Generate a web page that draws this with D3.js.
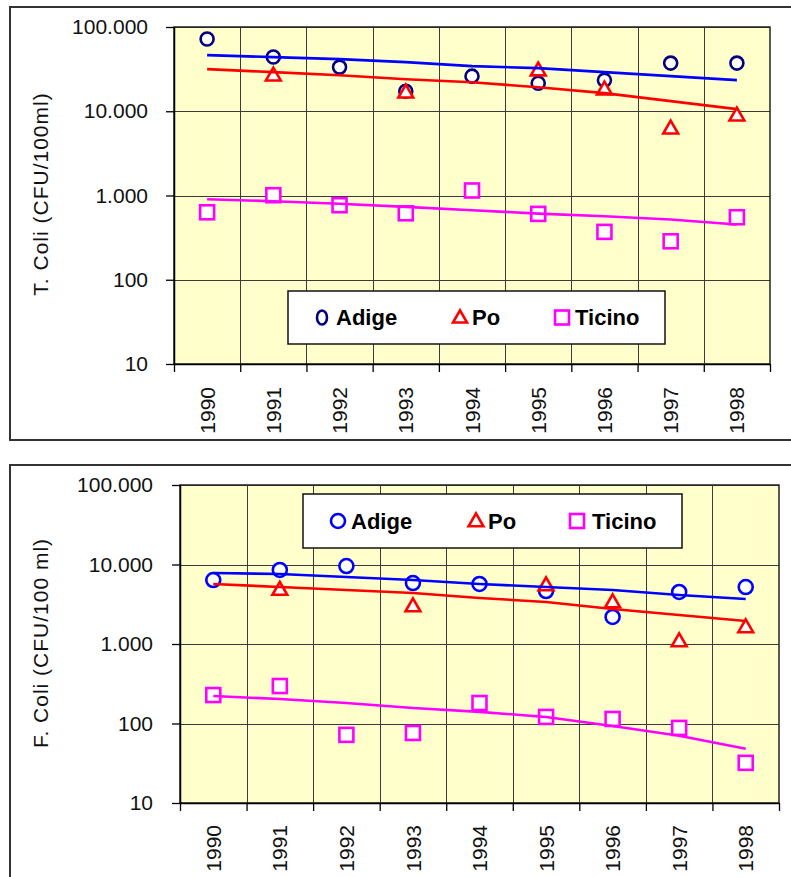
<!DOCTYPE html>
<html>
<head>
<meta charset="utf-8">
<script src="https://cdn.jsdelivr.net/npm/d3@7"></script>
<style>
  html, body { margin: 0; padding: 0; background: #fff; }
  svg { display: block; font-family: "Liberation Sans", Arial, sans-serif; }
</style>
</head>
<body>
<svg id="chart" width="791" height="877"></svg>
<script>
// ---------- DATA ----------
const years = ["1990", "1991", "1992", "1993", "1994", "1995", "1996", "1997", "1998"];
const yTickValues = [10, 100, 1000, 10000, 100000];
const yTickLabels = ["10", "100", "1.000", "10.000", "100.000"];
const seriesNames = ["Adige", "Po", "Ticino"];

// Panel 1: T. Coli (CFU/100ml)
const tcAdige = [72000, 44000, 33400, 17300, 26100, 21500, 23400, 37300, 37300];
const tcPo = [null, 26800, null, 16800, null, 30800, 18300, 6280, 8960];
const tcTicino = [632, 1008, 767, 615, 1147, 605, 370, 286, 552];
const tcAdigeTrend = [46400, 43900, 41600, 38300, 34300, 32500, 29100, 26100, 23400];
const tcPoTrend = [31600, 29100, 26800, 24000, 22100, 19300, 16400, 13200, 10600];
const tcTicinoTrend = [903, 855, 797, 733, 669, 610, 567, 518, 452];

// Panel 2: F. Coli (CFU/100 ml)
const fcAdige = [6380, 8530, 9570, 5850, 5690, 4640, 2190, 4510, 5210];
const fcPo = [null, 4850, null, 3010, null, 5520, 3380, 1090, 1640];
const fcTicino = [228, 296, 72, 76, 181, 121, 114, 88, 32];
const fcAdigeTrend = [7820, 7600, 6970, 6380, 5690, 5210, 4780, 4130, 3680];
const fcPoTrend = [5690, 5210, 4780, 4380, 3790, 3380, 2750, 2320, 1950];
const fcTicinoTrend = [222, 203, 181, 157, 140, 121, 93, 70, 48];

// ---------- DRAWING ----------
const svg = d3.select("#chart");
const FONT = '"Liberation Sans", Arial, sans-serif';

function drawPanel(cfg) {
  const g = svg.append("g");
  // outer frame
  g.append("rect")
    .attr("x", cfg.frame.x).attr("y", cfg.frame.y)
    .attr("width", cfg.frame.w).attr("height", cfg.frame.h)
    .attr("fill", "#fff").attr("stroke", "#333").attr("stroke-width", 2);

  const x = d3.scaleBand().domain(years).range([cfg.left, cfg.right]).padding(0);
  const xb = d3.scaleLinear().domain([0, years.length]).range([cfg.left, cfg.right]);
  const y = d3.scaleLog().domain([10, 100000]).range([cfg.bottom, cfg.top]);

  // plot background
  g.append("rect")
    .attr("x", cfg.left).attr("y", cfg.top)
    .attr("width", cfg.right - cfg.left).attr("height", cfg.bottom - cfg.top)
    .attr("fill", "#FFFFCC");

  // horizontal gridlines
  g.append("g").selectAll("line").data(yTickValues).join("line")
    .attr("x1", cfg.left).attr("x2", cfg.right)
    .attr("y1", d => Math.round(y(d)) + 0.5).attr("y2", d => Math.round(y(d)) + 0.5)
    .attr("stroke", "#3a3a3a").attr("stroke-width", 1);

  // vertical gridlines
  g.append("g").selectAll("line").data(d3.range(1, years.length)).join("line")
    .attr("x1", d => Math.round(xb(d)) + 0.5).attr("x2", d => Math.round(xb(d)) + 0.5)
    .attr("y1", cfg.top).attr("y2", cfg.bottom)
    .attr("stroke", "#3a3a3a").attr("stroke-width", 1);

  // plot border
  g.append("rect")
    .attr("x", cfg.left).attr("y", cfg.top)
    .attr("width", cfg.right - cfg.left).attr("height", cfg.bottom - cfg.top)
    .attr("fill", "none").attr("stroke", "#222").attr("stroke-width", 1.5);

  // y axis
  const yAxis = d3.axisLeft(y)
    .tickValues(yTickValues)
    .tickFormat((d, i) => yTickLabels[i])
    .tickSizeInner(8).tickSizeOuter(0).tickPadding(cfg.yPad);
  const ya = g.append("g").attr("transform", `translate(${cfg.left},0)`).call(yAxis);
  ya.select(".domain").attr("stroke", "#000").attr("stroke-width", 1.5);
  ya.selectAll(".tick line").attr("stroke", "#000").attr("stroke-width", 1.3);
  ya.selectAll(".tick text").attr("font-family", FONT).attr("font-size", 21).attr("fill", "#111");

  // x axis: ticks at band boundaries
  const xAxis = d3.axisBottom(xb).tickValues(d3.range(0, years.length + 1))
    .tickFormat("").tickSizeInner(8).tickSizeOuter(0);
  const xa = g.append("g").attr("transform", `translate(0,${cfg.bottom})`).call(xAxis);
  xa.select(".domain").attr("stroke", "#000").attr("stroke-width", 1.5);
  xa.selectAll(".tick line").attr("stroke", "#000").attr("stroke-width", 1.3);

  // year labels (rotated)
  g.append("g").selectAll("text").data(years).join("text")
    .attr("transform", d => `translate(${x(d) + x.bandwidth() / 2},${cfg.bottom + cfg.xLabGap}) rotate(-90)`)
    .attr("text-anchor", "end").attr("dy", "0.36em")
    .attr("font-family", FONT).attr("font-size", 21).attr("fill", "#111")
    .text(d => d);

  // y title
  g.append("text")
    .attr("transform", `translate(${cfg.titleX},${cfg.titleY}) rotate(-90)`)
    .attr("text-anchor", "middle")
    .attr("font-family", FONT).attr("font-size", 21).attr("letter-spacing", 1)
    .attr("fill", "#111")
    .text(cfg.title);

  const cx = (d, i) => x(years[i]) + x.bandwidth() / 2;
  const data = cfg.series;

  // markers
  const mk = g.append("g");
  // Adige circles
  mk.selectAll("circle.a").data(data[0].values.map((v, i) => ({ v, i })).filter(d => d.v != null)).join("circle")
    .attr("cx", d => cx(null, d.i)).attr("cy", d => y(d.v)).attr("r", cfg.r)
    .attr("fill", "#fff").attr("stroke", cfg.circleColor).attr("stroke-width", 2.6);
  // Po triangles
  const tri = d3.symbol().type(d3.symbolTriangle).size(cfg.triSize);
  mk.selectAll("path.p").data(data[1].values.map((v, i) => ({ v, i })).filter(d => d.v != null)).join("path")
    .attr("transform", d => `translate(${cx(null, d.i)},${y(d.v) + 1})`)
    .attr("d", tri())
    .attr("fill", "#fff").attr("stroke", "#FF0000").attr("stroke-width", 2.6);
  // Ticino squares
  const sq = cfg.sq;
  mk.selectAll("rect.t").data(data[2].values.map((v, i) => ({ v, i })).filter(d => d.v != null)).join("rect")
    .attr("x", d => cx(null, d.i) - sq / 2).attr("y", d => y(d.v) - sq / 2)
    .attr("width", sq).attr("height", sq)
    .attr("fill", "#fff").attr("stroke", "#FF00FF").attr("stroke-width", 2.6);

  // trend lines (on top)
  const line = d3.line().x((d, i) => cx(null, i)).y(d => y(d));
  data.forEach(s => {
    g.append("path").datum(s.trend)
      .attr("d", line).attr("fill", "none")
      .attr("stroke", s.lineColor).attr("stroke-width", 2.6);
  });

  // legend
  const L = cfg.legend;
  const lg = g.append("g");
  lg.append("rect").attr("x", L.x).attr("y", L.y).attr("width", L.w).attr("height", L.h)
    .attr("fill", "#fff").attr("stroke", "#111").attr("stroke-width", 1.5);
  const ly = L.y + L.h / 2;
  lg.append("ellipse").attr("cx", L.items[0]).attr("cy", ly).attr("rx", L.crx).attr("ry", L.cry)
    .attr("fill", "#fff").attr("stroke", cfg.circleColor).attr("stroke-width", 2.6);
  lg.append("path").attr("transform", `translate(${L.items[1]},${ly + 1})`)
    .attr("d", d3.symbol().type(d3.symbolTriangle).size(L.tri)())
    .attr("fill", "#fff").attr("stroke", "#FF0000").attr("stroke-width", 2.6);
  lg.append("rect").attr("x", L.items[2] - L.sq / 2).attr("y", ly - L.sq / 2)
    .attr("width", L.sq).attr("height", L.sq)
    .attr("fill", "#fff").attr("stroke", "#FF00FF").attr("stroke-width", 2.6);
  seriesNames.forEach((n, i) => {
    lg.append("text").attr("x", L.text[i]).attr("y", ly).attr("dy", "0.36em")
      .attr("font-family", FONT).attr("font-size", 22).attr("font-weight", "bold")
      .attr("fill", "#000").text(n);
  });
}

drawPanel({
  frame: { x: 10, y: 7, w: 800, h: 433 },
  left: 174, right: 770, top: 27, bottom: 364,
  yPad: 18, xLabGap: 23,
  title: "T. Coli (CFU/100ml)", titleX: 48, titleY: 194,
  circleColor: "#000080", r: 6.5, triSize: 95, sq: 14,
  series: [
    { values: tcAdige, trend: tcAdigeTrend, lineColor: "#0000FF" },
    { values: tcPo, trend: tcPoTrend, lineColor: "#FF0000" },
    { values: tcTicino, trend: tcTicinoTrend, lineColor: "#FF00FF" }
  ],
  legend: { x: 288, y: 291, w: 377, h: 53, items: [322, 460, 562], text: [336, 472, 575],
            crx: 5, cry: 7, tri: 85, sq: 14 }
});

drawPanel({
  frame: { x: 10, y: 465, w: 800, h: 430 },
  left: 180, right: 779, top: 485, bottom: 803,
  yPad: 19, xLabGap: 22,
  title: "F. Coli (CFU/100 ml)", titleX: 48, titleY: 643,
  circleColor: "#0000FF", r: 7, triSize: 95, sq: 14,
  series: [
    { values: fcAdige, trend: fcAdigeTrend, lineColor: "#0000FF" },
    { values: fcPo, trend: fcPoTrend, lineColor: "#FF0000" },
    { values: fcTicino, trend: fcTicinoTrend, lineColor: "#FF00FF" }
  ],
  legend: { x: 303, y: 494, w: 379, h: 54, items: [338, 476, 577], text: [351, 488, 592],
            crx: 7, cry: 7, tri: 95, sq: 14 }
});
</script>
</body>
</html>
